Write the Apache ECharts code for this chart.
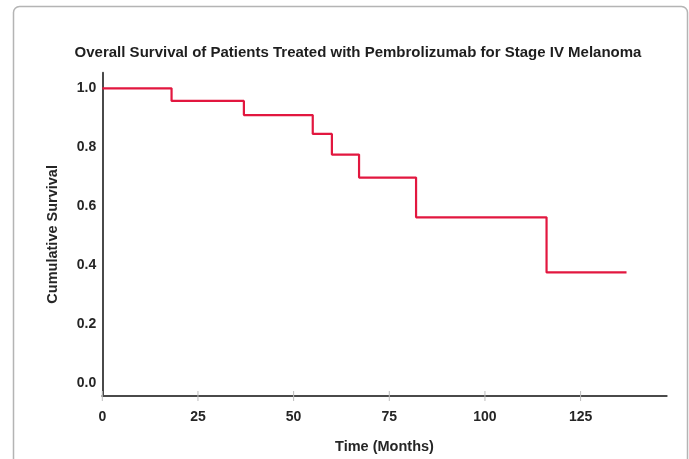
<!DOCTYPE html>
<html>
<head>
<meta charset="utf-8">
<script src="https://cdn.jsdelivr.net/npm/echarts@6/dist/echarts.min.js"></script>
<style>
html,body{margin:0;padding:0;background:#fff;}
#chart{width:689px;height:459px;}
</style>
</head>
<body>
<div id="chart"></div>
<script>
// Kaplan-Meier steps
var timesMonths = [0, 18.1, 37, 55, 60, 67.1, 82, 116.1, 137];
var survival    = [1.0, 0.957, 0.909, 0.845, 0.775, 0.697, 0.562, 0.375, 0.375];
var xTicks = [0, 25, 50, 75, 100, 125];
var yTicks = [0, 0.2, 0.4, 0.6, 0.8, 1.0];
var titleText = 'Overall Survival of Patients Treated with Pembrolizumab for Stage IV Melanoma';
var xName = 'Time (Months)';
var yName = 'Cumulative Survival';

var Y_MIN = -0.0447, Y_MAX = 1.0529, X_MAX = 147.5;
var pts = timesMonths.map(function (t, i) { return [t, survival[i]]; });
var tickData = xTicks.map(function (v) { return [v, Y_MIN]; });
var FONT = '"Liberation Sans", Arial, sans-serif';

var chart = echarts.init(document.getElementById('chart'), null, {renderer: 'canvas'});
chart.setOption({
  animation: false,
  backgroundColor: '#fff',
  graphic: [{
    type: 'rect', left: 11, top: 4, silent: true, z: -10,
    shape: {width: 674, height: 480, r: 6},
    style: {fill: 'none', stroke: '#b4b4b4', lineWidth: 1.5}
  }],
  title: {
    text: titleText, left: 353, top: 40, textAlign: 'center',
    textStyle: {fontFamily: FONT, fontSize: 15, fontWeight: 'bold', color: '#1e1e1e'}
  },
  grid: {left: 102.3, right: 22.3, top: 72.7, bottom: 62.5, containLabel: false},
  xAxis: {
    type: 'value', min: 0, max: X_MAX,
    axisLine: {onZero: false, lineStyle: {color: '#4a4a4a', width: 2}},
    axisTick: {show: false},
    axisLabel: {customValues: xTicks, margin: 14, fontFamily: FONT, fontSize: 14, fontWeight: 'bold', color: '#262626'},
    splitLine: {show: false},
    name: xName, nameLocation: 'middle', nameGap: 43,
    nameTextStyle: {fontFamily: FONT, fontSize: 14.5, fontWeight: 'bold', color: '#262626'}
  },
  yAxis: {
    type: 'value', min: Y_MIN, max: Y_MAX,
    axisLine: {show: true, onZero: false, lineStyle: {color: '#4a4a4a', width: 2}},
    axisTick: {show: false},
    axisLabel: {customValues: yTicks, margin: 6, fontFamily: FONT, fontSize: 14, fontWeight: 'bold', color: '#262626',
      formatter: function (v) { return v.toFixed(1); }},
    splitLine: {show: false},
    name: yName, nameLocation: 'middle', nameGap: 42, nameRotate: 90,
    nameTextStyle: {fontFamily: FONT, fontSize: 14.5, fontWeight: 'bold', color: '#262626'}
  },
  series: [{
    type: 'line', step: 'end', data: pts, showSymbol: false, symbol: 'none',
    lineStyle: {color: '#e2173f', width: 2.2},
    z: 5
  }, {
    type: 'custom', data: tickData, z: 1, silent: true,
    renderItem: function (params, api) {
      var p = api.coord([api.value(0), api.value(1)]);
      return {
        type: 'line',
        shape: {x1: p[0], y1: p[1] - 5, x2: p[0], y2: p[1] + 5},
        style: {stroke: '#bdbdbd', lineWidth: 1}
      };
    }
  }]
});
</script>
</body>
</html>
